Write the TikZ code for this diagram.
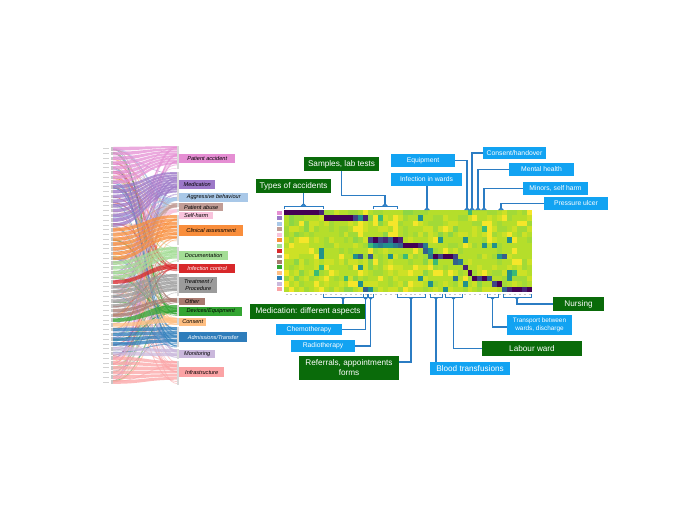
\documentclass[tikz,border=0pt]{standalone}
\usepackage{fontspec}
\setmainfont{Liberation Sans}
\usetikzlibrary{arrows.meta}
\definecolor{cat0}{HTML}{E58ED3}
\definecolor{cat1}{HTML}{9C78C8}
\definecolor{cat2}{HTML}{A9C8E8}
\definecolor{cat3}{HTML}{C29D96}
\definecolor{cat4}{HTML}{F8C3DC}
\definecolor{cat5}{HTML}{F98E3C}
\definecolor{cat6}{HTML}{A3DD95}
\definecolor{cat7}{HTML}{D8282A}
\definecolor{cat8}{HTML}{9B9B9B}
\definecolor{cat9}{HTML}{A87A70}
\definecolor{cat10}{HTML}{33A532}
\definecolor{cat11}{HTML}{FFBF82}
\definecolor{cat12}{HTML}{2E7DBB}
\definecolor{cat13}{HTML}{CAB8DC}
\definecolor{cat14}{HTML}{FBA3A5}
\definecolor{hm0}{HTML}{F5E62A}
\definecolor{hm1}{HTML}{CDE126}
\definecolor{hm2}{HTML}{B5DE2B}
\definecolor{hm3}{HTML}{A2DA37}
\definecolor{hm4}{HTML}{8CD646}
\definecolor{vG2}{HTML}{3BBB75}
\definecolor{vT}{HTML}{21918C}
\definecolor{vTB}{HTML}{2A788E}
\definecolor{vB}{HTML}{355F8D}
\definecolor{vBP}{HTML}{414487}
\definecolor{vP}{HTML}{482475}
\definecolor{vDP}{HTML}{440154}
\definecolor{dkgreen}{HTML}{0A6B0A}
\definecolor{azure}{HTML}{12A3F2}
\definecolor{lineblue}{HTML}{2B7CC3}
\begin{document}
\begin{tikzpicture}[x=1pt,y=-1pt,
  gbox/.style={fill=dkgreen, text=white, inner sep=0pt, align=center, font=\fontsize{8.2}{10}\selectfont},
  bbox/.style={fill=azure, text=white, inner sep=0pt, align=center, font=\fontsize{6.8}{8}\selectfont},
  conn/.style={draw=lineblue, line width=1.4pt, -{Triangle[reversed,length=3pt,width=5.5pt]}},
  brk/.style={draw=lineblue, line width=0.9pt},
  catlab/.style={inner sep=0pt, anchor=west, align=center, font=\fontsize{5.6}{6.2}\selectfont\itshape}
]
\useasboundingbox (0,0) rectangle (676,507);
\fill[white] (0,0) rectangle (676,507);

% ---------------- alluvial: thin cross flows
\pgfmathsetseed{7}
\foreach \j in {1,...,230}{
  \pgfmathtruncatemacro\li{int(rnd*50)}
  \pgfmathtruncatemacro\rc{int(rnd*15)}
  \pgfmathsetmacro\ly{147+4.76*\li+rnd*3.6}
  \pgfmathsetmacro\ra{{146,172,197,203,209,215,247,264,274,298,305,318,327,349,361}[\rc]}
  \pgfmathsetmacro\rb{{169,198,201,207,212,245,262,271,296,303,316,325,347,359,385}[\rc]}
  \pgfmathsetmacro\ry{\ra+rnd*(\rb-\ra)}
  \pgfmathsetmacro\lw{0.25+rnd*0.9}
  \draw[cat\rc, opacity=0.55, line width=\lw pt] (113,\ly) .. controls (145,\ly) and (145,\ry) .. (177,\ry);
}
% ---------------- alluvial: main bands
\foreach \c/\a/\n in {0/0/8,1/8/9,5/17/7,6/24/4,7/28/1,8/29/5,9/34/2,10/36/1,11/37/1,12/38/4,13/42/2,14/44/6}{
  \pgfmathsetmacro\ra{{146,172,197,203,209,215,247,264,274,298,305,318,327,349,361}[\c]}
  \pgfmathsetmacro\rb{{169,198,201,207,212,245,262,271,296,303,316,325,347,359,385}[\c]}
  \pgfmathsetmacro\sl{0.8*(\rb-\ra)/\n}
  \foreach \k in {1,...,\n}{
    \pgfmathsetmacro\ly{147+4.76*(\a+\k-1)}
    \pgfmathsetmacro\lyb{\ly+3.6}
    \pgfmathsetmacro\ry{\ra+(\k-1)*\sl}
    \pgfmathsetmacro\ryb{\ry+0.85*\sl}
    \fill[cat\c, opacity=0.75] (113,\ly) .. controls (145,\ly) and (145,\ry) .. (177,\ry) -- (177,\ryb) .. controls (145,\ryb) and (145,\lyb) .. (113,\lyb) -- cycle;
  }
}
% left nodes and tiny labels
\foreach \i in {0,...,49}{
  \fill[gray!45] (110.5,147+4.76*\i) rectangle +(2.5,3.6);
  \draw[gray!35, line width=0.9pt] (103,147+4.76*\i+1.8) -- ++(6,0);
}
% right nodes
\foreach \ra/\rb in {146/169,172/198,197/201,203/207,209/212,215/245,247/262,264/271,274/296,298/303,305/316,318/325,327/347,349/359,361/385}{
  \fill[gray!30] (176.5,\ra) rectangle (179,\rb);
}
% category labels
\node[catlab, fill=cat0, minimum width=56pt, minimum height=9pt] (lab0) at (179,158.5) {Patient accident};
\node[catlab, fill=cat1, minimum width=36pt, minimum height=9pt] (lab1) at (179,184.5) {Medication};
\node[catlab, fill=cat2, minimum width=69pt, minimum height=9pt] (lab2) at (179,197.5) {Aggressive behaviour};
\node[catlab, fill=cat3, minimum width=44pt, minimum height=8pt] (lab3) at (179,207) {Patient abuse};
\node[catlab, fill=cat4, minimum width=34pt, minimum height=7pt] (lab4) at (179,215.5) {Self-harm};
\node[catlab, fill=cat5, minimum width=64pt, minimum height=11pt] (lab5) at (179,230.5) {Clinical assessment};
\node[catlab, fill=cat6, minimum width=49pt, minimum height=9pt] (lab6) at (179,255.5) {Documentation};
\node[catlab, fill=cat7, text=white, minimum width=56pt, minimum height=9pt] (lab7) at (179,268.5) {Infection control};
\node[catlab, fill=cat8, minimum width=38pt, minimum height=16pt] (lab8) at (179,285) {Treatment /\\Procedure};
\node[catlab, fill=cat9, minimum width=26pt, minimum height=7pt] (lab9) at (179,301.5) {Other};
\node[catlab, fill=cat10, minimum width=63pt, minimum height=9pt] (lab10) at (179,311.5) {Devices/Equipment};
\node[catlab, fill=cat11, minimum width=27pt, minimum height=8pt] (lab11) at (179,322) {Consent};
\node[catlab, fill=cat12, text=white, minimum width=68pt, minimum height=10pt] (lab12) at (179,337) {Admissions/Transfer};
\node[catlab, fill=cat13, minimum width=36pt, minimum height=8pt] (lab13) at (179,354) {Monitoring};
\node[catlab, fill=cat14, minimum width=45pt, minimum height=10pt] (lab14) at (179,372) {Infrastructure};

% ---------------- heatmap
\pgfmathsetseed{3}
\foreach \r in {0,...,14}{
  \foreach \c in {0,...,49}{
    \pgfmathsetmacro\rv{rnd}
    \pgfmathtruncatemacro\ci{\rv<0.07 ? 0 : (\rv<0.32 ? 1 : (\rv<0.77 ? 2 : (\rv<0.96 ? 3 : 4)))}
    \fill[hm\ci] (284+4.96*\c,210+5.4667*\r) rectangle +(5.26,5.77);
  }
}
\foreach \r/\c/\k in {0/0/vDP,0/1/vDP,0/2/vDP,0/3/vDP,0/4/vDP,0/5/vDP,0/6/vDP,0/7/vP,
  1/8/vDP,1/9/vDP,1/10/vDP,1/11/vDP,1/12/vDP,1/13/vDP,1/14/vBP,1/15/vT,1/16/vP,
  5/17/vBP,5/18/vDP,5/19/vBP,5/20/vP,5/21/vB,5/22/vDP,5/23/vP,
  6/17/vG2,6/18/vT,6/19/vTB,6/20/vT,6/21/vT,6/22/vTB,6/23/vB,6/24/vDP,6/25/vDP,6/26/vDP,6/27/vP,6/28/vTB,
  7/28/vB,7/29/vT,
  8/29/vTB,8/30/vDP,8/31/vBP,8/32/vDP,8/33/vDP,8/34/vBP,
  9/34/vB,9/35/vTB,10/36/vP,11/37/vDP,
  12/38/vDP,12/39/vBP,12/40/vDP,12/41/vB,
  13/42/vBP,13/43/vDP,
  14/44/vB,14/45/vP,14/46/vDP,14/47/vDP,14/48/vP,14/49/vDP,
  1/19/vG2,1/27/vT,0/37/vG2,2/4/hm4,3/4/hm4,7/7/vT,8/7/vT,8/14/vT,8/15/vB,8/17/vB,8/21/vT,8/24/vG2,
  10/15/vT,13/15/vT,14/16/vB,14/17/vT,12/27/vT,5/31/vT,5/36/vT,6/40/vT,6/42/vT,5/45/vT,8/43/vT,8/44/vB,
  11/45/vT,11/46/vG2,12/45/vT,12/34/vTB,9/30/vG2,13/29/vT,14/32/vT,10/7/vG2,3/40/vG2,12/12/vG2,11/6/vG2,13/36/vT,
  2/15/hm0,3/15/hm0,4/15/hm0,2/22/hm0,3/22/hm0,4/22/hm0,2/41/hm0,3/41/hm0,4/41/hm0,5/41/hm0}{
  \fill[\k] (284+4.96*\c,210+5.4667*\r) rectangle +(4.96,5.4667);
}
% legend squares
\foreach \r in {0,...,14}{
  \fill[cat\r] (276.5,210+5.4667*\r+0.8) rectangle +(5.5,3.9);
}
% tiny column labels
\foreach \c in {0,...,49}{
  \draw[gray!45, line width=0.5pt] (284+4.96*\c+1.5,294.3) -- ++(2,0);
}

% ---------------- brackets and anchor coordinates
\draw[brk] (284,209) -- (284,206) -- (323,206) -- (323,209);
\coordinate (ta1) at (303.5,206);
\draw[brk] (373,209) -- (373,206) -- (397,206) -- (397,209);
\coordinate (ta2) at (385,206);
\coordinate (ta3) at (467,210);
\coordinate (ta4) at (427,210);
\coordinate (ta5) at (472,210);
\coordinate (ta6) at (478,210);
\coordinate (ta7) at (484,210);
\coordinate (ta8) at (501,210);

\draw[brk] (323,293.5) -- (323,297) -- (363,297) -- (363,293.5);
\coordinate (bb1) at (343,297);
\draw[brk] (363.7,293.5) -- (363.7,297) -- (367.5,297) -- (367.5,293.5);
\coordinate (bb2) at (365.6,297);
\draw[brk] (368.5,293.5) -- (368.5,297) -- (373,297) -- (373,293.5);
\coordinate (bb3) at (370.7,297);
\draw[brk] (397,293.5) -- (397,297) -- (425,297) -- (425,293.5);
\coordinate (bb4) at (411,297);
\draw[brk] (430,293.5) -- (430,297) -- (442,297) -- (442,293.5);
\coordinate (bb5) at (436,297);
\draw[brk] (445,293.5) -- (445,297) -- (462,297) -- (462,293.5);
\coordinate (bb6) at (453.5,297);
\draw[brk] (487,293.5) -- (487,297) -- (498,297) -- (498,293.5);
\coordinate (bb7) at (492.5,297);
\draw[brk] (503,293.5) -- (503,297) -- (531,297) -- (531,293.5);
\coordinate (bb8) at (517,297);

% ---------------- annotation boxes
\node[gbox, minimum width=75pt, minimum height=14pt] (types) at (293.5,186) {Types of accidents};
\node[gbox, minimum width=75pt, minimum height=14pt] (samples) at (341.5,164) {Samples, lab tests};
\node[bbox, minimum width=64pt, minimum height=13pt] (equip) at (423,160.5) {Equipment};
\node[bbox, minimum width=71pt, minimum height=13pt] (infw) at (426.5,179.5) {Infection in wards};
\node[bbox, minimum width=63pt, minimum height=12pt] (consent) at (514.5,153) {Consent/handover};
\node[bbox, minimum width=65pt, minimum height=13pt] (mental) at (541.5,169.5) {Mental health};
\node[bbox, minimum width=65pt, minimum height=13pt] (minors) at (555.5,188.5) {Minors, self harm};
\node[bbox, minimum width=64pt, minimum height=13pt] (press) at (576,203.5) {Pressure ulcer};

\node[gbox, minimum width=116pt, minimum height=15pt] (medasp) at (308,311.5) {Medication: different aspects};
\node[bbox, minimum width=66pt, minimum height=11pt] (chemo) at (309,329.5) {Chemotherapy};
\node[bbox, minimum width=64pt, minimum height=12pt] (radio) at (323,346) {Radiotherapy};
\node[gbox, minimum width=100pt, minimum height=24pt] (refer) at (349,368) {Referrals, appointments\\forms};
\node[bbox, font=\fontsize{8.2}{10}\selectfont, minimum width=80pt, minimum height=13pt] (blood) at (470,368.5) {Blood transfusions};
\node[gbox, minimum width=100pt, minimum height=15pt] (labour) at (532,348.5) {Labour ward};
\node[bbox, font=\fontsize{6.4}{8}\selectfont, minimum width=65pt, minimum height=20pt] (transp) at (539.5,325) {Transport between\\wards, discharge};
\node[gbox, minimum width=51pt, minimum height=14pt] (nursing) at (578.5,304) {Nursing};

% ---------------- connectors
\draw[conn] (types.south -| ta1) -- (ta1);
\draw[conn] (samples.south) -- ++(0,24) -| (ta2);
\draw[conn] (equip.east) -| (ta3);
\draw[conn] (infw.south -| ta4) -- (ta4);
\draw[conn] (consent.west) -| (ta5);
\draw[conn] (mental.west) -| (ta6);
\draw[conn] (minors.west) -| (ta7);
\draw[conn] (press.west) -| (ta8);

\draw[conn] (medasp.north -| bb1) -- (bb1);
\draw[conn] (chemo.east) -| (bb2);
\draw[conn] (radio.east) -| (bb3);
\draw[conn] ([yshift=6pt]refer.east) -| (bb4);
\draw[conn] (blood.north -| bb5) -- (bb5);
\draw[conn] (labour.west) -| (bb6);
\draw[conn] ([yshift=-2pt]transp.west) -| (bb7);
\draw[conn] (nursing.west) -| (bb8);
\end{tikzpicture}
\end{document}
